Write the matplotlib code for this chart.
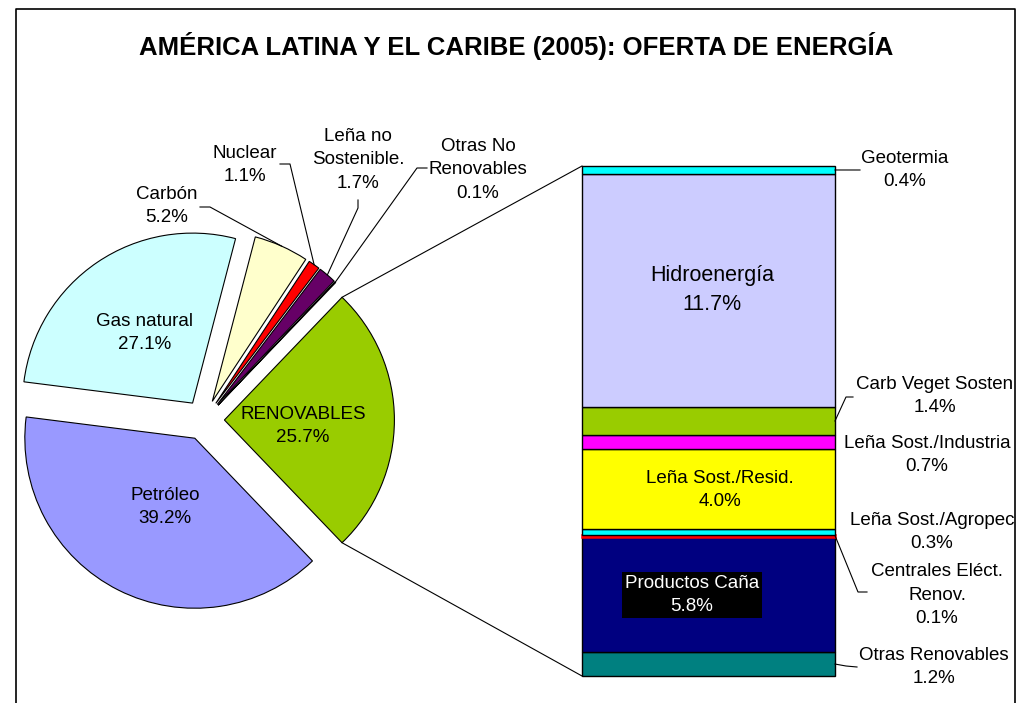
import numpy as np
import matplotlib.pyplot as plt

plt.rcParams['font.family'] = ['Liberation Sans', 'DejaVu Sans']

W, H = 1026, 703

# pie: first slice (RENOVABLES) is broken out into the stacked bar
pie_names = ['RENOVABLES', 'Otras No\nRenovables', 'Leña no\nSostenible.', 'Nuclear',
             'Carbón', 'Gas natural', 'Petróleo']
pie_values = [25.7, 0.1, 1.7, 1.1, 5.2, 27.1, 39.2]
pie_colors = ['#99CC00', '#FF8080', '#660066', '#FF0000', '#FFFFCC', '#CCFFFF', '#9999FF']

# bar, listed bottom to top
bar_names = ['Otras Renovables', 'Productos Caña', 'Centrales Eléct.\nRenov.',
             'Leña Sost./Agropec', 'Leña Sost./Resid.', 'Leña Sost./Industria',
             'Carb Veget Sosten', 'Hidroenergía', 'Geotermia']
bar_values = [1.2, 5.8, 0.1, 0.3, 4.0, 0.7, 1.4, 11.7, 0.4]
bar_colors = ['#008080', '#000080', '#FF0000', '#00FFFF', '#FFFF00', '#FF00FF',
              '#99CC00', '#CCCCFF', '#00FFFF']

title = 'AMÉRICA LATINA Y EL CARIBE (2005): OFERTA DE ENERGÍA'


def py(y):
    # pixel row (top down) -> data y (bottom up)
    return H - y


fs = 13.5
ls = 1.5
fig = plt.figure(figsize=(W / 100, H / 100), dpi=100)

# stacked bar axes goes underneath, the main (pixel) axes carries pie + all text
total = sum(bar_values)
bar_ax = fig.add_axes([582 / W, py(676) / H, 253 / W, 510 / H], zorder=0)
ax = fig.add_axes([0, 0, 1, 1], zorder=1)
ax.patch.set_visible(False)

radius = 170
start = -360 * pie_values[0] / sum(pie_values) / 2
wedges, _ = ax.pie(pie_values, colors=pie_colors, startangle=start,
                   explode=[0.12 * radius] * len(pie_values), center=(204, py(420)),
                   radius=radius, wedgeprops=dict(edgecolor='black', linewidth=0.8))
ax.set_xlim(0, W)
ax.set_ylim(0, H)
ax.axis('off')

# labels inside the big slices
inside = {0: (303, 426), 5: (145, 333), 6: (165, 507)}
for i, (x, y) in inside.items():
    ax.text(x, py(y), f'{pie_names[i]}\n{pie_values[i]:.1f}%', ha='center', va='center',
            fontsize=fs, linespacing=ls)

# labels outside the thin slices, with leader lines
outside = {1: (478, 170), 2: (358, 160), 3: (245, 165), 4: (167, 206)}
elbows = {1: [(427, 168), (417, 168)], 2: [(358, 200), (358, 208)],
          3: [(280, 164), (290, 164)], 4: [(200, 207), (210, 207)]}
for i, (x, y) in outside.items():
    ax.text(x, py(y), f'{pie_names[i]}\n{pie_values[i]:.1f}%', ha='center', va='center',
            fontsize=fs, linespacing=ls)
    w = wedges[i]
    mid = np.radians((w.theta1 + w.theta2) / 2)
    tip = (w.center[0] + w.r * np.cos(mid), w.center[1] + w.r * np.sin(mid))
    xs = [p[0] for p in elbows[i]] + [tip[0]]
    ys = [py(p[1]) for p in elbows[i]] + [tip[1]]
    ax.plot(xs, ys, color='black', lw=0.8)

bottoms = np.concatenate([[0], np.cumsum(bar_values)[:-1]])
edges = ['red' if n.startswith('Centrales') else 'black' for n in bar_names]
lws = [1.8 if n.startswith('Centrales') else 1.0 for n in bar_names]
bars = bar_ax.bar(0.5, bar_values, width=1, bottom=bottoms, color=bar_colors,
                  edgecolor=edges, linewidth=lws)
for b in bars:
    b.set_clip_on(False)
bar_ax.set_xlim(0, 1)
bar_ax.set_ylim(0, total)
bar_ax.axis('off')


def bar_to_main(x, y):
    return ax.transData.inverted().transform(bar_ax.transData.transform((x, y)))


# labels inside the bar (Hidroenergía is drawn a bit larger in the original)
bar_inside = {7: (712, 290), 4: (720, 490), 1: (692, 595)}
for i, (x, y) in bar_inside.items():
    kw = dict(fontsize=fs)
    if bar_names[i] == 'Hidroenergía':
        kw = dict(fontsize=15.5)
    if bar_colors[i] == '#000080':
        kw.update(color='white', bbox=dict(facecolor='black', edgecolor='none',
                                           boxstyle='square,pad=0.15'))
    ax.text(x, py(y), f'{bar_names[i]}\n{bar_values[i]:.1f}%', ha='center', va='center',
            linespacing=ls, **kw)

# labels beside the bar
bar_outside = {8: (905, 170), 6: (935, 396), 5: (927, 455), 3: (932, 532),
               2: (937, 595), 0: (934, 667)}
bar_elbows = {8: [(860, 170)], 6: [(846, 397), (853, 397)], 2: [(858, 592), (867, 592)],
              0: [(846, 666), (857, 667)]}
for i, (x, y) in bar_outside.items():
    ax.text(x, py(y), f'{bar_names[i]}\n{bar_values[i]:.1f}%', ha='center', va='center',
            fontsize=fs, linespacing=ls)
    if i in bar_elbows:
        s = bar_to_main(1, bottoms[i] + bar_values[i] / 2)
        xs = [s[0]] + [p[0] for p in bar_elbows[i]]
        ys = [s[1]] + [py(p[1]) for p in bar_elbows[i]]
        ax.plot(xs, ys, color='black', lw=0.8)

# lines joining the RENOVABLES slice to the bar
w = wedges[0]
for ang, yb in [(w.theta2, total), (w.theta1, 0)]:
    a = np.radians(ang)
    tip = (w.center[0] + w.r * np.cos(a), w.center[1] + w.r * np.sin(a))
    corner = bar_to_main(0, yb)
    ax.plot([tip[0], corner[0]], [tip[1], corner[1]], color='black', lw=0.8)

# chart frame and title
ax.plot([16, 16, 1015, 1015], [py(710), py(9), py(9), py(710)], color='black', lw=1.2,
        clip_on=False)
ax.text(516, py(46), title, ha='center', va='center', fontsize=18.5, fontweight='bold')

fig.savefig('out.png', dpi=100)
